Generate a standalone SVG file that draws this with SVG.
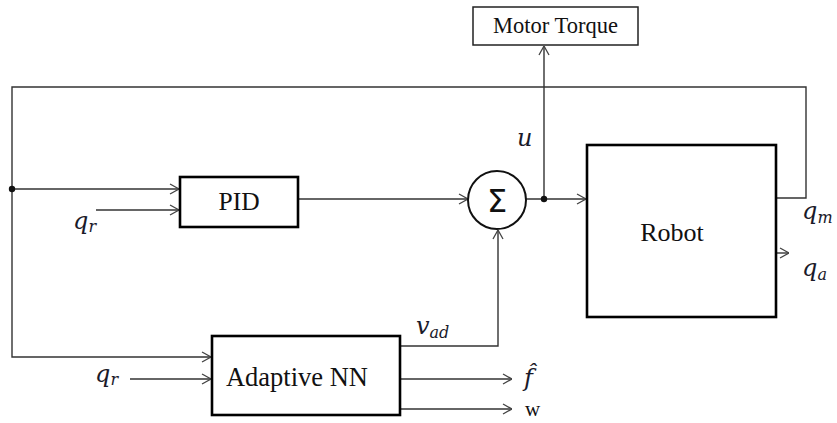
<svg xmlns="http://www.w3.org/2000/svg" width="837" height="423" viewBox="0 0 837 423">
<style>
.box{fill:#fff;stroke:#000;stroke-width:2.6}
.thin{fill:#fff;stroke:#222;stroke-width:1.5}
.ln{fill:none;stroke:#333;stroke-width:1.4}
.lbl{fill:#111;text-anchor:middle}
.m{font-style:italic;fill:#1a1a2a}
</style>
<defs>
<marker id="ah" viewBox="0 0 10 12" refX="10" refY="6" markerWidth="10" markerHeight="12" markerUnits="userSpaceOnUse" orient="auto">
<path d="M1,1 L10,6 L1,11" fill="none" stroke="#444" stroke-width="1.3"/>
</marker>
</defs>
<g id="connectors">
<path class="ln" d="M776,198 H806 V87 H12 V357 H211" marker-end="url(#ah)"/>
<path class="ln" d="M12,189 H179" marker-end="url(#ah)"/>
<path class="ln" d="M96,210 H179" marker-end="url(#ah)"/>
<path class="ln" d="M298,199 H468" marker-end="url(#ah)"/>
<path class="ln" d="M526,199 H586" marker-end="url(#ah)"/>
<path class="ln" d="M544,199 V46" marker-end="url(#ah)"/>
<path class="ln" d="M400,346 H498 V230" marker-end="url(#ah)"/>
<path class="ln" d="M130,379 H211" marker-end="url(#ah)"/>
<path class="ln" d="M400,379 H512" marker-end="url(#ah)"/>
<path class="ln" d="M400,409 H512" marker-end="url(#ah)"/>
<path class="ln" d="M776,253 H789" marker-end="url(#ah)"/>
<circle cx="12" cy="189" r="3.2" fill="#111"/>
<circle cx="544" cy="199" r="3.2" fill="#111"/>
</g>
<g id="motor-torque">
<rect class="thin" x="473" y="7" width="165" height="38"/>
<text class="lbl" x="555.5" y="33" font-family="Liberation Serif, serif" font-size="22.5">Motor Torque</text>
</g>
<g id="pid">
<rect class="box" x="180" y="177" width="118" height="50"/>
<text class="lbl" x="239" y="210" font-family="Liberation Serif, serif" font-size="25.5">PID</text>
</g>
<g id="sum">
<circle cx="497" cy="200" r="29" fill="#fff" stroke="#111" stroke-width="2"/>
<text x="497" y="212" font-family="DejaVu Sans, sans-serif" font-size="32" text-anchor="middle" fill="#111">Σ</text>
</g>
<g id="robot">
<rect class="box" x="587" y="145" width="189" height="172"/>
<text class="lbl" x="672" y="241" font-family="Liberation Serif, serif" font-size="26">Robot</text>
</g>
<g id="adaptive-nn">
<rect class="box" x="212" y="336" width="188" height="79"/>
<text class="lbl" x="297" y="386" font-family="Liberation Serif, serif" font-size="26.5">Adaptive NN</text>
</g>
<g id="labels" font-family="DejaVu Serif, serif">
<text class="m" x="73" y="229" font-size="24">q<tspan font-size="16" dy="3">r</tspan></text>
<text class="m" x="95" y="382" font-size="24">q<tspan font-size="16" dy="3">r</tspan></text>
<text class="m" x="517" y="146" font-size="24">u</text>
<text class="m" x="416" y="334" font-size="24">v<tspan font-size="16" dy="4">ad</tspan></text>
<text class="m" x="802" y="219" font-size="24">q<tspan font-size="16" dy="4">m</tspan></text>
<text class="m" x="802" y="276" font-size="24">q<tspan font-size="16" dy="4">a</tspan></text>
<text class="m" x="524" y="386" font-size="24">f̂</text>
<text x="525" y="416" font-family="Liberation Serif, serif" font-size="21" fill="#111">w</text>
</g>
</svg>
